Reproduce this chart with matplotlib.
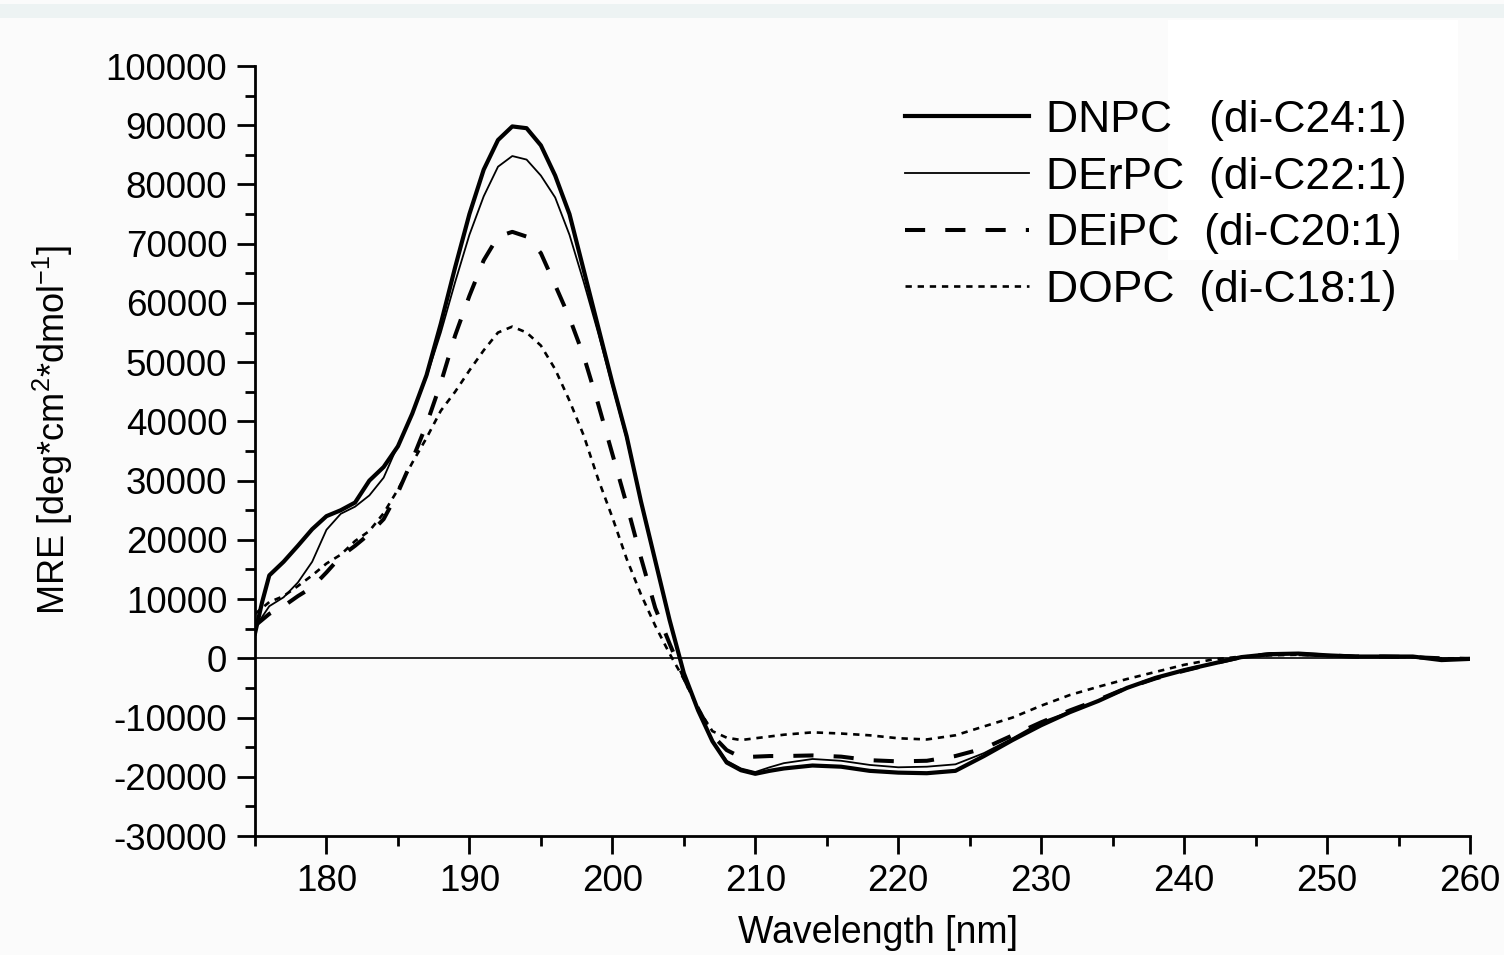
import matplotlib
matplotlib.use("Agg")
import matplotlib.pyplot as plt
from matplotlib.patches import Rectangle
from matplotlib.ticker import MultipleLocator

plt.rcParams['font.family'] = ['Liberation Sans', 'DejaVu Sans']
plt.rcParams['mathtext.fontset'] = 'custom'
plt.rcParams['mathtext.rm'] = 'Liberation Sans'
plt.rcParams['mathtext.it'] = 'Liberation Sans'
plt.rcParams['axes.unicode_minus'] = False

# wavelength grid (nm)
wavelength = [175, 175.5, 176, 177, 178, 179, 180, 181, 182, 183, 184, 185, 186, 187, 188, 189,
              190, 191, 192, 193, 194, 195, 196, 197, 198, 199, 200, 201, 202, 203, 204, 205,
              206, 207, 208, 209, 210, 211, 212, 214, 216, 218, 220, 222, 224, 226, 228, 230,
              232, 234, 236, 238, 240, 242, 244, 246, 248, 250, 252, 254, 256, 258, 260]

# MRE values
dnpc = [4200, 9500, 14000, 16300, 19000, 21800, 24000, 25000, 26300, 30000, 32300, 35800,
        41300, 47800, 56500, 66000, 75000, 82500, 87500, 89800, 89500, 86600, 81500, 75000,
        65500, 56000, 46500, 37500, 26500, 16500, 6500, -2500, -8800, -14000, -17600, -18900,
        -19500, -19000, -18600, -18100, -18300, -19000, -19300, -19400, -19000, -16500, -13800,
        -11300, -9100, -7200, -5000, -3300, -2000, -900, 200, 700, 800, 500, 300, 300, 300,
        -300, -100]
derpc = [5300, 7000, 8800, 10300, 12800, 16300, 21700, 24400, 25600, 27500, 30500, 36000,
         41200, 47500, 55000, 63500, 71500, 78000, 83000, 84800, 84200, 81500, 77800, 71500,
         63500, 55000, 46000, 37000, 26500, 16500, 6500, -2500, -8800, -14000, -17300, -18600,
         -19200, -18400, -17700, -17000, -17300, -18000, -18400, -18300, -17900, -16000, -13500,
         -10800, -9000, -7200, -5100, -3300, -2000, -900, 200, 700, 800, 600, 400, 300, 200,
         0, 0]
deipc = [5500, 6500, 7500, 8800, 10500, 12000, 14500, 17200, 19000, 21000, 23500, 28000,
         33500, 39500, 46500, 54500, 61200, 67200, 71200, 72000, 71200, 68400, 63000, 57500,
         51000, 43000, 34500, 26000, 17000, 8500, 2500, -3200, -8500, -13000, -15500, -16700,
         -16600, -16500, -16500, -16400, -16600, -17200, -17400, -17300, -16500, -15200, -13000,
         -10800, -8800, -7000, -5000, -3400, -2100, -900, 200, 700, 700, 500, 300, 300, 200,
         0, -100]
dopc = [7500, 8500, 9500, 10500, 12200, 14000, 16000, 17500, 19800, 21500, 24500, 28500,
        33000, 37200, 41800, 45000, 48600, 52000, 55000, 56000, 55000, 52800, 48800, 43500,
        37600, 30300, 23800, 16800, 10800, 5500, 800, -3500, -8500, -12300, -13400, -13800,
        -13500, -13200, -12900, -12500, -12700, -13000, -13500, -13700, -13000, -11500, -10000,
        -8000, -6200, -4800, -3500, -2300, -1100, -200, 300, 500, 600, 400, 300, 300, 200,
        0, 0]

labels = ['DNPC   (di-C24:1)', 'DErPC  (di-C22:1)', 'DEiPC  (di-C20:1)', 'DOPC  (di-C18:1)']

fig = plt.figure(figsize=(15.04, 9.55), dpi=100, facecolor='#fbfbfb')
# light band at the top and white patch behind legend text
fig.add_artist(Rectangle((0, 1 - 18 / 955), 1, 14 / 955, transform=fig.transFigure,
                         facecolor='#edf3f3', edgecolor='none', zorder=0))
fig.add_artist(Rectangle((1168 / 1504, 1 - 260 / 955), 290 / 1504, 240 / 955,
                         transform=fig.transFigure, facecolor='white', edgecolor='none', zorder=0))

ax = fig.add_axes([255 / 1504, 1 - 836 / 955, 1215 / 1504, 770 / 955])
ax.set_facecolor('none')

ax.axhline(0, color='black', lw=1.2, zorder=1)
ax.plot(wavelength, dnpc, color='black', lw=3.0, label=labels[0])
ax.plot(wavelength, derpc, color='black', lw=1.3, label=labels[1])
ax.plot(wavelength, deipc, color='black', lw=2.9, dashes=(5, 5), label=labels[2])
ax.plot(wavelength, dopc, color='black', lw=1.9, dashes=(2.4, 2.2), label=labels[3])

ax.set_xlim(175, 260)
ax.set_ylim(-30000, 100000)
ax.xaxis.set_major_locator(MultipleLocator(10))
ax.xaxis.set_minor_locator(MultipleLocator(5))
ax.yaxis.set_major_locator(MultipleLocator(10000))
ax.yaxis.set_minor_locator(MultipleLocator(5000))

for s in ['top', 'right']:
    ax.spines[s].set_visible(False)
for s in ['left', 'bottom']:
    ax.spines[s].set_linewidth(2.0)

ax.tick_params(which='major', direction='out', length=13, width=2.0, labelsize=26.5, pad=7)
ax.tick_params(which='minor', direction='out', length=7, width=2.0)

ax.set_xlabel('Wavelength [nm]', fontsize=27)
ax.xaxis.set_label_coords(0.513, -0.102)
ax.set_ylabel(r'MRE [deg*cm$^2$*dmol$^{-1}$]', fontsize=26)
ax.yaxis.set_label_coords(-0.148, 0.527)

leg = ax.legend(loc='upper left', bbox_to_anchor=(905 / 1504, 1 - 100 / 955),
                bbox_transform=fig.transFigure, frameon=False, fontsize=32,
                handlelength=2.8, handletextpad=0.38, labelspacing=0.35, borderpad=0,
                borderaxespad=0)

fig.savefig('out.png', dpi=100, facecolor=fig.get_facecolor())
